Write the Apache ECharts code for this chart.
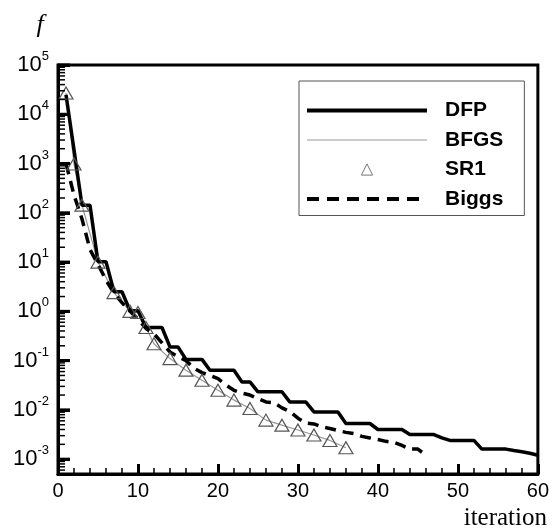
<!DOCTYPE html>
<html>
<head>
<meta charset="utf-8">
<script src="https://cdn.jsdelivr.net/npm/echarts@6/dist/echarts.min.js"></script>
<style>
  html, body { margin: 0; padding: 0; background: #fff; }
  #chart { width: 552px; height: 531px; }
</style>
</head>
<body>
<div id="chart"></div>
<script>
// Objective value f per iteration for four quasi-Newton updates

// DFP: one value per iteration, iterations 1..60
const dfpValues = [
  2.5e4, 1.9e3, 143, 143, 10.2, 10.2, 2.5, 2.5, 1.03, 1.03,
  0.47, 0.47, 0.47, 0.19, 0.19, 0.106, 0.106, 0.106, 0.064, 0.064,
  0.064, 0.064, 0.037, 0.037, 0.0233, 0.0233, 0.0233, 0.0233, 0.0144, 0.0144,
  0.0144, 0.0091, 0.0091, 0.0091, 0.0091, 0.0053, 0.0053, 0.0053, 0.0053, 0.004,
  0.004, 0.004, 0.004, 0.00316, 0.00316, 0.00316, 0.00316, 0.0027, 0.0024, 0.0024,
  0.0024, 0.0024, 0.0016, 0.0016, 0.0016, 0.0016, 0.0015, 0.00142, 0.00132, 0.0012
];

// SR1 / BFGS: recorded iterations and values
const sr1Iters = [1, 2, 3, 5, 7, 9, 10, 11, 12, 14, 16, 18, 20, 22, 24, 26, 28, 30, 32, 34, 36];
const sr1Values = [2.7e4, 980, 143, 10, 2.4, 1.0, 0.95, 0.47, 0.22, 0.11, 0.064, 0.040, 0.025, 0.0158, 0.0107, 0.0062, 0.0049, 0.0039, 0.0031, 0.0024, 0.0017];
const bfgsIters = [1, 2, 3, 5, 7, 9, 10, 11, 12, 14, 16, 18, 20, 22, 24, 26, 28, 30, 32, 34, 36];
const bfgsValues = [2.7e4, 980, 143, 10, 2.4, 1.0, 0.95, 0.47, 0.22, 0.11, 0.064, 0.040, 0.025, 0.0158, 0.0107, 0.0062, 0.0049, 0.0039, 0.0031, 0.0024, 0.0017];

// Biggs: one value per iteration, iterations 1..46
const biggsValues = [
  1000, 230, 75, 18, 9, 4.3, 2.35, 1.5, 1.0, 0.7,
  0.45, 0.35, 0.23, 0.15, 0.12, 0.1, 0.07, 0.057, 0.05, 0.043,
  0.032, 0.025, 0.022, 0.02, 0.017, 0.0145, 0.014, 0.011, 0.0092, 0.0068,
  0.0054, 0.0052, 0.0045, 0.0042, 0.0038, 0.0035, 0.0033, 0.0029, 0.0027, 0.0025,
  0.0023, 0.0022, 0.0019, 0.0016, 0.0016, 0.0012
];

// Axis ranges, decade exponents and titles
const xTicks = [0, 10, 20, 30, 40, 50, 60];
const yMin = 5e-4;
const yMax = 1e5;
const yExponents = [-4, -3, -2, -1, 0, 1, 2, 3, 4, 5];
const xTitle = 'iteration';
const yTitle = 'f';

const perIteration = vals => vals.map((v, i) => [i + 1, v]);
const paired = (xs, ys) => xs.map((x, i) => [x, ys[i]]);

const sans = 'Liberation Sans';

const titleGraphics = [
  {
    type: 'text', silent: true,
    style: { text: yTitle, x: 40, y: 25, align: 'center', verticalAlign: 'middle',
             font: 'italic 26px "Liberation Serif"', fill: '#000' }
  },
  {
    type: 'text', silent: true,
    style: { text: xTitle, x: 547, y: 518, align: 'right', verticalAlign: 'middle',
             font: '25px "Liberation Serif"', fill: '#000' }
  }
];

const chart = echarts.init(document.getElementById('chart'));

chart.setOption({
  animation: false,
  grid: {
    left: 58, right: 14, top: 65, bottom: 57,
    show: true, borderColor: '#000', borderWidth: 3, backgroundColor: 'transparent'
  },
  graphic: titleGraphics,
  legend: {
    orient: 'vertical',
    left: 299, top: 81,
    data: [
      { name: 'DFP', lineStyle: { width: 4, color: '#000' }, itemStyle: { opacity: 0 } },
      { name: 'BFGS', lineStyle: { width: 1.2, color: '#999' }, itemStyle: { opacity: 0 } },
      { name: 'SR1', lineStyle: { width: 0, opacity: 0 }, itemStyle: { color: '#fff', borderColor: '#777', borderWidth: 1 } },
      { name: 'Biggs', lineStyle: { width: 4, color: '#000', type: [12, 8] }, itemStyle: { opacity: 0 } }
    ],
    itemWidth: 120,
    itemHeight: 14,
    itemGap: 8.5,
    padding: [19, 21, 6, 6],
    borderColor: '#555',
    borderWidth: 1,
    backgroundColor: '#fff',
    textStyle: {
      fontFamily: sans, fontSize: 21, fontWeight: 'bold', color: '#000',
      padding: [0, 0, 0, 13]
    },
    selectedMode: false
  },
  xAxis: {
    type: 'value',
    min: xTicks[0], max: xTicks[xTicks.length - 1], interval: 10,
    axisLine: { show: true, lineStyle: { color: '#000', width: 3 } },
    axisTick: { show: true, inside: true, length: 10, lineStyle: { color: '#000', width: 3 } },
    minorTick: { show: true, splitNumber: 5, length: 6, lineStyle: { color: '#000', width: 1.5 } },
    axisLabel: { fontFamily: sans, fontSize: 20, color: '#000', margin: 7 },
    splitLine: { show: false }
  },
  yAxis: {
    type: 'log',
    logBase: 10,
    min: yMin, max: yMax,
    axisLine: { show: true, lineStyle: { color: '#000', width: 3 } },
    axisTick: { show: true, inside: true, length: 12, lineStyle: { color: '#000', width: 3 } },
    axisLabel: {
      showMinLabel: false,
      margin: 9,
      formatter: v => '{a|10}{b|' + Math.round(Math.log10(v)) + '}',
      rich: {
        a: { fontFamily: sans, fontSize: 22, lineHeight: 30, color: '#000', verticalAlign: 'middle' },
        b: { fontFamily: sans, fontSize: 13, lineHeight: 30, color: '#000', verticalAlign: 'top' }
      }
    },
    splitLine: { show: false }
  },
  series: [
    {
      name: 'DFP', type: 'line', data: perIteration(dfpValues),
      symbol: 'none', lineStyle: { color: '#000', width: 3.5 }, itemStyle: { color: '#000' }, z: 4
    },
    {
      name: 'BFGS', type: 'line', data: paired(bfgsIters, bfgsValues),
      symbol: 'none', lineStyle: { color: '#999', width: 1.2 }, itemStyle: { color: '#999' }, z: 3
    },
    {
      name: 'SR1', type: 'line', data: paired(sr1Iters, sr1Values),
      symbol: 'triangle', symbolSize: [14, 12], showAllSymbol: true,
      lineStyle: { width: 0, opacity: 0 },
      itemStyle: { color: 'rgba(255,255,255,0)', borderColor: '#555', borderWidth: 1.2 }, z: 5
    },
    {
      name: 'Biggs', type: 'line', data: perIteration(biggsValues),
      symbol: 'none', lineStyle: { color: '#000', width: 3.5, type: [11, 7] }, itemStyle: { color: '#000' }, z: 4
    }
  ]
});

// Inward ticks on the log axis: a long one at each decade, short ones at 2..9 x 10^k.
// Positions come from the y axis scale via convertToPixel.
const axisX = chart.convertToPixel({ xAxisIndex: 0 }, xTicks[0]);
const tickGraphics = [];
yExponents.forEach(k => {
  for (let m = 1; m <= 9; m++) {
    const v = m * Math.pow(10, k);
    if (v < yMin || v > yMax) continue;
    const y = chart.convertToPixel({ yAxisIndex: 0 }, v);
    const major = m === 1;
    tickGraphics.push({
      type: 'line', silent: true, z: 50,
      shape: { x1: axisX, y1: y, x2: axisX + (major ? 12 : 7), y2: y },
      style: { stroke: '#000', lineWidth: major ? 3 : 1.5 }
    });
  }
});
chart.setOption({ graphic: titleGraphics.concat(tickGraphics) });
</script>
</body>
</html>
